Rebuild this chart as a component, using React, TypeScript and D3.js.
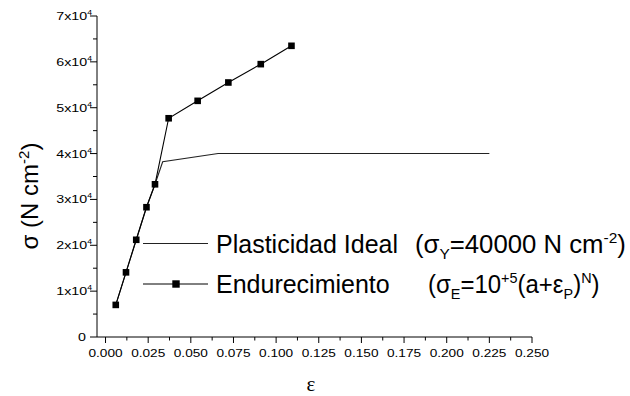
import * as React from 'react';
import * as d3 from 'd3';

// strain (epsilon) and stress (N cm-2)
const hardeningStrain = [0.006, 0.012, 0.018, 0.024, 0.029, 0.037, 0.054, 0.072, 0.091, 0.109];
const hardeningStress = [7000, 14100, 21200, 28300, 33300, 47700, 51500, 55500, 59500, 63500];

const idealStrain = [0.006, 0.012, 0.018, 0.024, 0.029, 0.0335, 0.066, 0.225];
const idealStress = [7000, 14100, 21200, 28300, 33300, 38200, 40000, 40000];

const xTicks = [0, 0.025, 0.05, 0.075, 0.1, 0.125, 0.15, 0.175, 0.2, 0.225, 0.25];
const yTicks = [0, 10000, 20000, 30000, 40000, 50000, 60000, 70000];
const yTickMantissa = ['0', '1', '2', '3', '4', '5', '6', '7'];

const SX = 1.24; // tick labels in the source are stretched sideways
const FONT = '"Liberation Sans", Arial, sans-serif';

export default function App() {
  const ref = React.useRef<SVGSVGElement>(null);

  React.useEffect(() => {
    const svg = d3.select(ref.current);
    svg.selectAll('*').remove();

    const x = d3.scaleLinear().domain([-0.005, 0.25]).range([97, 532]);
    const y = d3.scaleLinear().domain([0, 70000]).range([337, 16]);

    const stretchedText = (px: number, py: number, anchor: string, size: number, sx = SX) =>
      svg
        .append('g')
        .attr('transform', `translate(${px},${py}) scale(${sx},1)`)
        .append('text')
        .attr('text-anchor', anchor)
        .attr('font-family', FONT)
        .attr('font-size', size)
        .attr('fill', '#000');

    // axes lines
    svg.append('line').attr('x1', x(-0.005)).attr('x2', x(0.25)).attr('y1', y(0)).attr('y2', y(0)).attr('stroke', '#000');
    svg.append('line').attr('x1', x(-0.005)).attr('x2', x(-0.005)).attr('y1', y(0)).attr('y2', y(70000)).attr('stroke', '#000');

    // x ticks (major + minor)
    xTicks.forEach((t, i) => {
      svg.append('line').attr('x1', x(t)).attr('x2', x(t)).attr('y1', y(0)).attr('y2', y(0) + 6).attr('stroke', '#000');
      if (i < xTicks.length - 1) {
        const m = t + 0.0125;
        svg.append('line').attr('x1', x(m)).attr('x2', x(m)).attr('y1', y(0)).attr('y2', y(0) + 3.5).attr('stroke', '#000');
      }
      stretchedText(x(t), 357, 'middle', 11).text(t.toFixed(3));
    });

    // y ticks
    yTicks.forEach((t, i) => {
      svg.append('line').attr('x1', x(-0.005) - 7).attr('x2', x(-0.005)).attr('y1', y(t)).attr('y2', y(t)).attr('stroke', '#000');
      if (i < yTicks.length - 1) {
        const m = t + 5000;
        svg.append('line').attr('x1', x(-0.005) - 4).attr('x2', x(-0.005)).attr('y1', y(m)).attr('y2', y(m)).attr('stroke', '#000');
      }
      if (t === 0) {
        stretchedText(86, y(t) + 4, 'end', 11.5).text('0');
      } else {
        const tx = stretchedText(92, y(t) + 4, 'end', 11.5);
        tx.append('tspan').text(`${yTickMantissa[i]}x10`);
        tx.append('tspan').attr('dy', -5).attr('font-size', 7).text('4');
      }
    });

    // axis titles
    const yt = svg
      .append('text')
      .attr('transform', 'translate(38,196) rotate(-90)')
      .attr('text-anchor', 'middle')
      .attr('font-family', FONT)
      .attr('font-size', 24);
    yt.append('tspan').text('σ (N cm');
    yt.append('tspan').attr('dy', -9).attr('font-size', 15).text('-2');
    yt.append('tspan').attr('dy', 9).text(')');

    svg
      .append('text')
      .attr('x', 311)
      .attr('y', 391)
      .attr('text-anchor', 'middle')
      .attr('font-family', '"Liberation Serif", "DejaVu Serif", serif')
      .attr('font-size', 21)
      .text('ε');

    // series
    const line = d3
      .line<[number, number]>()
      .x(d => x(d[0]))
      .y(d => y(d[1]));

    const idealData = idealStrain.map((e, i) => [e, idealStress[i]] as [number, number]);
    const hardData = hardeningStrain.map((e, i) => [e, hardeningStress[i]] as [number, number]);

    svg.append('path').datum(idealData).attr('d', line).attr('fill', 'none').attr('stroke', '#222').attr('stroke-width', 1.1);
    svg.append('path').datum(hardData).attr('d', line).attr('fill', 'none').attr('stroke', '#000').attr('stroke-width', 1.1);
    svg
      .selectAll('rect.pt')
      .data(hardData)
      .enter()
      .append('rect')
      .attr('class', 'pt')
      .attr('x', d => x(d[0]) - 3.3)
      .attr('y', d => y(d[1]) - 3.3)
      .attr('width', 6.6)
      .attr('height', 6.6)
      .attr('fill', '#000');

    // legend
    const lx0 = 143;
    const lx1 = 208;
    svg.append('line').attr('x1', lx0).attr('x2', lx1).attr('y1', 243.5).attr('y2', 243.5).attr('stroke', '#222');
    svg.append('line').attr('x1', lx0).attr('x2', lx1).attr('y1', 284).attr('y2', 284).attr('stroke', '#000');
    svg.append('rect').attr('x', 176 - 3.7).attr('y', 284 - 3.7).attr('width', 7.4).attr('height', 7.4).attr('fill', '#000');

    stretchedText(216, 252.5, 'start', 25, 1).text('Plasticidad Ideal');
    const l1 = stretchedText(415, 252.5, 'start', 25, 1.03);
    l1.append('tspan').text('(σ');
    l1.append('tspan').attr('dy', 6).attr('font-size', 15).text('Y');
    l1.append('tspan').attr('dy', -6).text('=40000 N cm');
    l1.append('tspan').attr('dy', -10).attr('font-size', 15).text('-2');
    l1.append('tspan').attr('dy', 10).text(')');

    stretchedText(216, 293, 'start', 25, 1).text('Endurecimiento');
    const l2 = stretchedText(428, 293, 'start', 25, 0.96);
    l2.append('tspan').text('(σ');
    l2.append('tspan').attr('dy', 6).attr('font-size', 15).text('E');
    l2.append('tspan').attr('dy', -6).text('=10');
    l2.append('tspan').attr('dy', -10).attr('font-size', 15).text('+5');
    l2.append('tspan').attr('dy', 10).text('(a+ε');
    l2.append('tspan').attr('dy', 6).attr('font-size', 15).text('P');
    l2.append('tspan').attr('dy', -6).text(')');
    l2.append('tspan').attr('dy', -10).attr('font-size', 15).text('N');
    l2.append('tspan').attr('dy', 10).text(')');
  }, []);

  return (
    <svg
      ref={ref}
      width={630}
      height={396}
      style={{ position: 'absolute', left: 0, top: 0, background: '#fff' }}
    />
  );
}
